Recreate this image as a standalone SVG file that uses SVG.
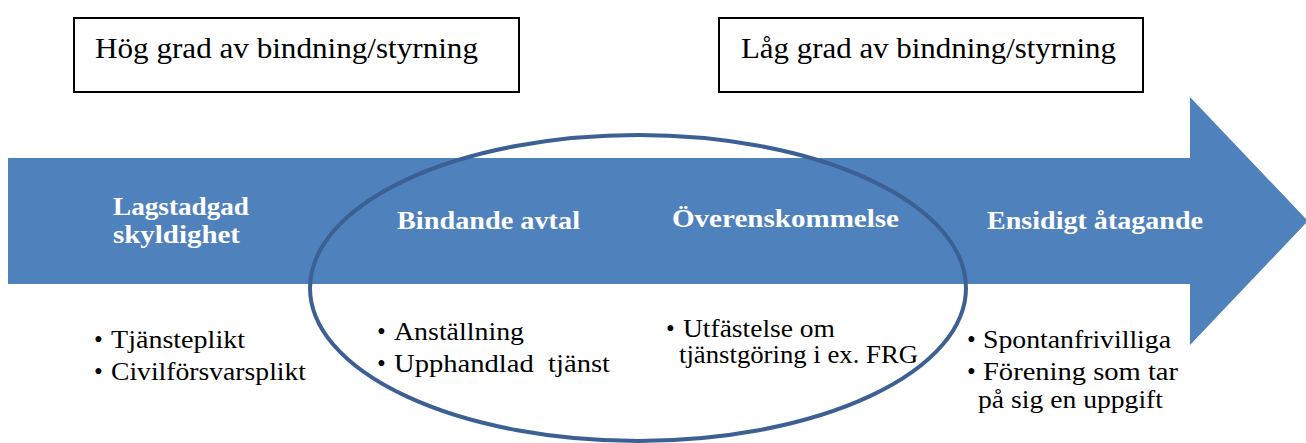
<svg xmlns="http://www.w3.org/2000/svg" width="1306" height="443" viewBox="0 0 1306 443">
<style>
.box{fill:#fff;stroke:#000;stroke-width:2}
.title{font-family:"Liberation Serif","Times New Roman",serif;font-size:30px;fill:#000}
.lbl{font-family:"Liberation Serif","Times New Roman",serif;font-size:26px;font-weight:bold;fill:#fff}
.bul{font-family:"Liberation Serif","Times New Roman",serif;font-size:25px;fill:#000}
</style>
<rect width="1306" height="443" fill="#fff"/>
<g id="box-hog">
<rect class="box" x="74" y="18" width="445" height="74"/>
<text class="title" x="95" y="58" textLength="383" lengthAdjust="spacingAndGlyphs">Hög grad av bindning/styrning</text>
</g>
<g id="box-lag">
<rect class="box" x="719" y="18" width="424" height="74"/>
<text class="title" x="741" y="58" textLength="375" lengthAdjust="spacingAndGlyphs">Låg grad av bindning/styrning</text>
</g>
<g id="arrow">
<polygon points="8,158 1190,158 1190,97 1308,221 1190,345 1190,284 8,284" fill="#4F81BD"/>
</g>
<g id="node-lagstadgad">
<text class="lbl" x="113" y="215" textLength="136" lengthAdjust="spacingAndGlyphs">Lagstadgad</text>
<text class="lbl" x="113" y="243" textLength="127" lengthAdjust="spacingAndGlyphs">skyldighet</text>
<text class="bul" x="94" y="348">•</text>
<text class="bul" x="111" y="348" textLength="134" lengthAdjust="spacingAndGlyphs">Tjänsteplikt</text>
<text class="bul" x="94" y="380">•</text>
<text class="bul" x="111" y="380" textLength="195" lengthAdjust="spacingAndGlyphs">Civilförsvarsplikt</text>
</g>
<g id="node-bindande">
<text class="lbl" x="397" y="229" textLength="183" lengthAdjust="spacingAndGlyphs">Bindande avtal</text>
<text class="bul" x="377" y="340">•</text>
<text class="bul" x="394" y="340" textLength="130" lengthAdjust="spacingAndGlyphs">Anställning</text>
<text class="bul" x="377" y="372">•</text>
<text class="bul" x="394" y="372" textLength="216" lengthAdjust="spacingAndGlyphs" xml:space="preserve">Upphandlad  tjänst</text>
</g>
<g id="node-overenskommelse">
<text class="lbl" x="672" y="227" textLength="227" lengthAdjust="spacingAndGlyphs">Överenskommelse</text>
<text class="bul" x="666" y="337">•</text>
<text class="bul" x="683" y="337" textLength="152" lengthAdjust="spacingAndGlyphs">Utfästelse om</text>
<text class="bul" x="679" y="363" textLength="239" lengthAdjust="spacingAndGlyphs">tjänstgöring i ex. FRG</text>
</g>
<g id="node-ensidigt">
<text class="lbl" x="987" y="229" textLength="216" lengthAdjust="spacingAndGlyphs">Ensidigt åtagande</text>
<text class="bul" x="967" y="348">•</text>
<text class="bul" x="983" y="348" textLength="188" lengthAdjust="spacingAndGlyphs">Spontanfrivilliga</text>
<text class="bul" x="967" y="380">•</text>
<text class="bul" x="983" y="380" textLength="195" lengthAdjust="spacingAndGlyphs">Förening som tar</text>
<text class="bul" x="978" y="408" textLength="185" lengthAdjust="spacingAndGlyphs">på sig en uppgift</text>
</g>
<g id="connectors">
<ellipse id="ellipse" cx="638" cy="288" rx="328" ry="153" fill="none" stroke="#3C6094" stroke-width="4"/>
</g>
</svg>
